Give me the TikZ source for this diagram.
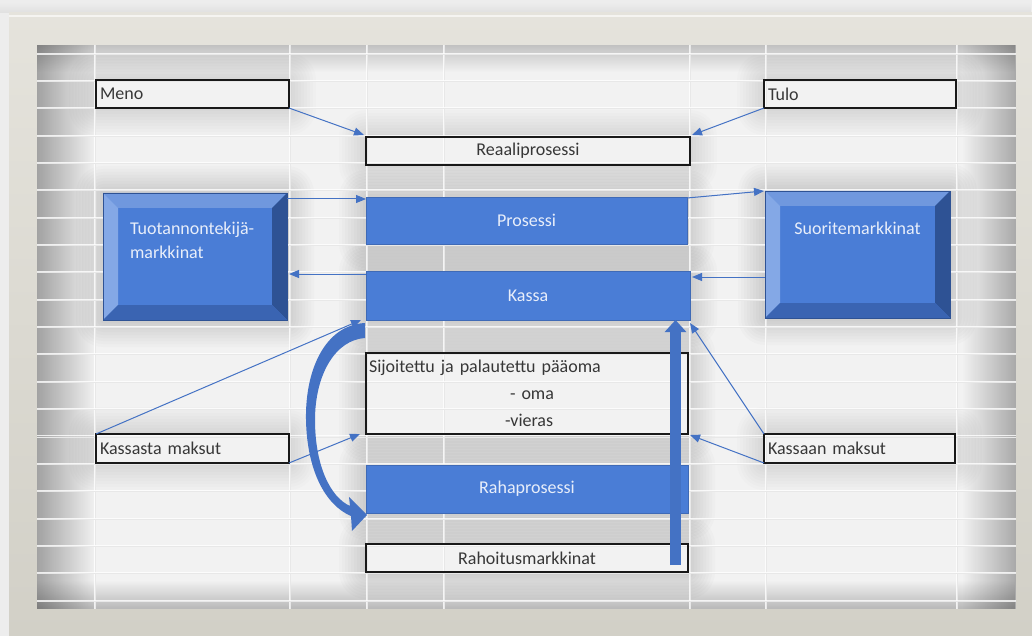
\documentclass[tikz,border=0pt]{standalone}
\usepackage{fontspec}
\setmainfont{Carlito}
\usetikzlibrary{arrows.meta,calc,fadings}
\pgfdeclarelayer{bg}\pgfdeclarelayer{mid}\pgfdeclarelayer{grid}
\pgfsetlayers{bg,mid,grid,main}
\definecolor{bluef}{RGB}{74,125,214}
\definecolor{bluel}{RGB}{68,114,196}
\definecolor{txt}{RGB}{55,55,55}
\definecolor{btxt}{RGB}{232,238,250}
\definecolor{sheet}{RGB}{242,242,242}
\definecolor{frameT}{RGB}{229,227,220}
\definecolor{frameB}{RGB}{210,208,199}
\definecolor{bevT}{RGB}{112,152,222}
\definecolor{bevL}{RGB}{132,168,230}
\definecolor{bevR}{RGB}{46,82,148}
\definecolor{bevB}{RGB}{58,100,178}
\newcommand\myhalo[2]{\foreach \s in {3,6,...,27}{\fill[black,opacity=#2,rounded corners=\s pt] ($(#1.north west)+(-\s,-\s)$) rectangle ($(#1.south east)+(\s,\s)$);}}
\newcommand\mybevel[2]{%
 \fill[bevT] (#1.north west) -- (#1.north east) -- ++(-#2,#2) -- ($(#1.north west)+(#2,#2)$) -- cycle;
 \fill[bevL] (#1.north west) -- (#1.south west) -- ++(#2,-#2) -- ($(#1.north west)+(#2,#2)$) -- cycle;
 \fill[bevR] (#1.north east) -- (#1.south east) -- ++(-#2,-#2) -- ($(#1.north east)+(-#2,#2)$) -- cycle;
 \fill[bevB] (#1.south west) -- (#1.south east) -- ++(-#2,-#2) -- ($(#1.south west)+(#2,-#2)$) -- cycle;
 \draw[bevR,line width=0.6pt] (#1.north west) rectangle (#1.south east);}
\begin{document}
\begin{tikzpicture}[x=1pt,y=-1pt, font=\fontsize{18}{24}\selectfont,
 obox/.style={draw=black!90, line width=2pt, inner sep=0pt, outer sep=0pt, text=txt},
 bbox/.style={fill=bluef, draw=bluef!85!black, line width=0.6pt, text=btxt, inner sep=0pt, outer sep=0pt},
 flow/.style={draw=bluel, line width=1pt, -{Triangle[length=10pt,width=8pt]}},
 gridd/.style={draw=black!9, line width=0.8pt},
 gridw/.style={draw=white, opacity=0.8, line width=0.9pt},
]
\useasboundingbox (0,0) rectangle (1032,636);
% nodes
\node[obox, minimum width=193pt, minimum height=28pt, text width=185pt, align=left] (meno) at (192.5,94) {Meno};
\node[obox, minimum width=192pt, minimum height=28pt, text width=184pt, align=left] (tulo) at (860,94) {Tulo};
\node[obox, minimum width=324pt, minimum height=28pt] (reaali) at (528,151) {Reaaliprosessi};
\node[bbox, minimum width=321pt, minimum height=47pt] (proc) at (526.5,220.5) {Prosessi};
\node[bbox, minimum width=324pt, minimum height=49pt] (kassa) at (528,295.5) {Kassa};
\node[obox, minimum width=322pt, minimum height=81pt, text width=316pt, align=left, font=\fontsize{18}{27}\selectfont] (sij) at (527,393.5) {Sijoitettu ja palautettu pääoma\\\hspace*{141pt}- oma\\\hspace*{136pt}-vieras};
\node[bbox, minimum width=322pt, minimum height=48pt] (raha) at (527,489) {Rahaprosessi};
\node[obox, minimum width=322pt, minimum height=28pt] (rahoitus) at (527,558) {Rahoitusmarkkinat};
\node[obox, minimum width=193pt, minimum height=29pt, text width=185pt, align=left] (km) at (192.5,448.5) {Kassasta maksut};
\node[obox, minimum width=191pt, minimum height=29pt, text width=183pt, align=left] (kam) at (859.5,448.5) {Kassaan maksut};
\node[bbox, minimum width=184pt, minimum height=127pt, text width=130pt, align=left] (tuot) at (195,256.5) {};
\node[bbox, minimum width=185pt, minimum height=127pt] (suor) at (857.5,254.5) {};
\mybevel{tuot}{15}
\mybevel{suor}{15}
\node[text=btxt, inner sep=0pt, text width=130pt, align=left, minimum height=127pt] at (tuot.center) {Tuotannontekijä-\\markkinat\\[9pt]\mbox{}};
\node[text=btxt, inner sep=0pt, align=center, minimum height=127pt] at (suor.center) {Suoritemarkkinat\\[29pt]\mbox{}};
% background
\begin{pgfonlayer}{bg}
\fill[black!7] (0,0) rectangle (1032,636);
\fill[black!12, path fading=north] (0,3) rectangle (1032,13);
\shade[top color=frameT, bottom color=frameB] (9,13) rectangle (1032,636);
\draw[white!60!frameT, line width=2pt] (9,16) -- (1032,16);
\fill[sheet] (37,45) rectangle (1016,609);
\fill[black, opacity=0.2, path fading=south] (37,45) rectangle (1016,72);
\fill[black, opacity=0.24, path fading=north] (37,580) rectangle (1016,609);
\fill[black, opacity=0.33, path fading=east] (37,45) rectangle (95,609);
\fill[black, opacity=0.3, path fading=west] (962,45) rectangle (1016,609);
\end{pgfonlayer}
\begin{pgfonlayer}{mid}
\foreach \n in {meno,tulo,reaali,km,kam}{\myhalo{\n}{0.01}}
\foreach \n in {proc,kassa,sij,raha,rahoitus,tuot,suor}{\myhalo{\n}{0.015}}
\foreach \n in {meno,tulo,reaali,sij,rahoitus,km,kam}{\fill[sheet] (\n.north west) rectangle (\n.south east);}
\end{pgfonlayer}
\begin{pgfonlayer}{grid}
\foreach \x in {94,289,366,443,689,765,956}{
 \draw[gridd] (\x+1,45) -- (\x+1,609);
 \draw[gridw] (\x,45) -- (\x,609);}
\foreach \k in {0,...,20}{
 \draw[gridd] (37,54+27.35*\k) -- (1016,54+27.35*\k);
 \draw[gridw] (37,53+27.35*\k) -- (1016,53+27.35*\k);}
\end{pgfonlayer}
% thin arrows
\draw[flow] (meno.south east) -- ($(reaali.north west)+(-2,-2)$);
\draw[flow] (tulo.south west) -- ($(reaali.north east)+(2,-2)$);
\draw[flow] ($(tuot.north east)+(0,6)$) -- ($(proc.north west)+(0,2)$);
\draw[flow] ($(proc.north east)+(0,1)$) -- ($(suor.north west)+(-1,0)$);
\draw[flow] ($(suor.north west)+(0,86)$) -- ($(kassa.north east)+(2,6)$);
\draw[flow] ($(kassa.north west)+(0,3)$) -- ($(tuot.north east)+(2,81)$);
\draw[flow] (km.north west) -- ($(kassa.south west)+(-5,0)$);
\draw[flow] (km.south east) -- ($(sij.south west)+(-6,0)$);
\draw[flow] (kam.north west) -- ($(kassa.south east)+(0,3)$);
\draw[flow] (kam.south west) -- ($(sij.south east)+(2,1)$);
% thick vertical arrow
\coordinate (vb) at ($(rahoitus.north east)+(-12.5,21)$);
\draw[bluel, line width=11pt, -{Triangle[length=12pt,width=21pt]}] (vb) -- (vb |- kassa.south);
% curved thick arrow
\begin{scope}[shift={(kassa.south west)}]
\fill[bluel] (-1,3) .. controls (-41,5) and (-61,50) .. (-60,100)
  .. controls (-59,150) and (-41,185) .. (-15,196)
  -- (-14,211) -- (1,195) -- (-17,177) -- (-16,186)
  .. controls (-36,177) and (-51,145) .. (-51,100)
  .. controls (-51,55) and (-31,20) .. (-1,18) -- cycle;
\end{scope}
\end{tikzpicture}
\end{document}
